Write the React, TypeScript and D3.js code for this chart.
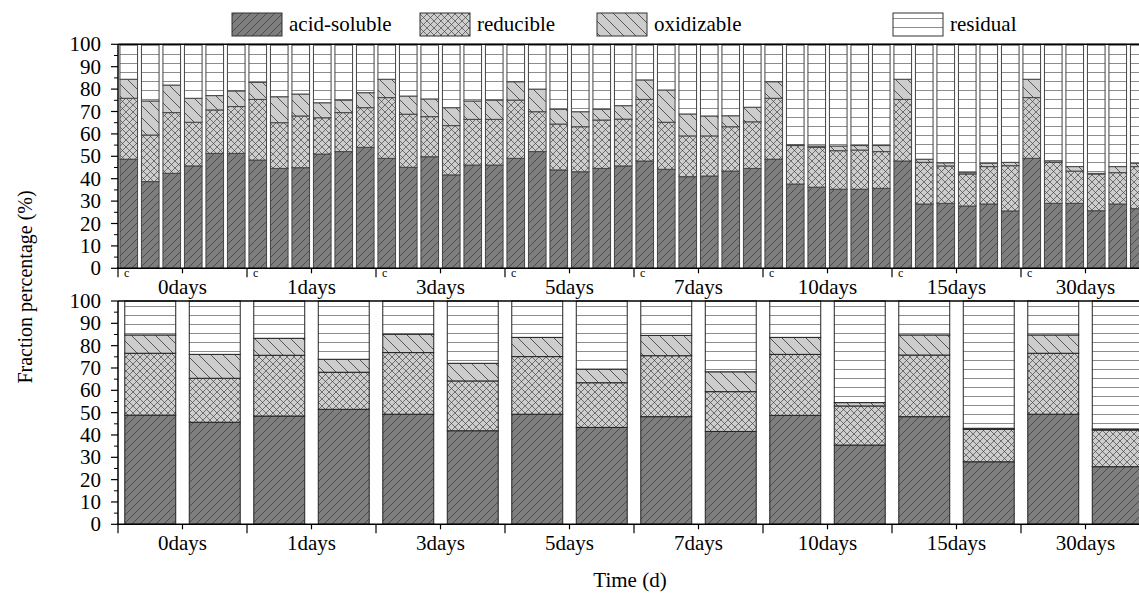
import React from 'react';
import * as d3 from 'd3';

const groups = ['0days', '1days', '3days', '5days', '7days', '10days', '15days', '30days'];
const fractionKeys = ['acid', 'reducible', 'oxidizable', 'residual'];
const fractionLabels = ['acid-soluble', 'reducible', 'oxidizable', 'residual'];

// Top panel: 6 bars per group (first bar of each group = control "c")
const topAcid = [
  48.7, 38.7, 42.4, 45.7, 51.3, 51.3,
  48.3, 44.6, 44.9, 51.0, 52.1, 54.0,
  49.1, 45.1, 49.8, 41.7, 46.1, 46.1,
  49.1, 52.1, 43.9, 43.1, 44.6, 45.7,
  47.9, 44.2, 40.9, 41.2, 43.4, 44.6,
  48.7, 37.6, 36.2, 35.3, 35.3, 35.7,
  47.9, 28.7, 29.0, 27.8, 28.7, 25.6,
  49.1, 29.0, 29.0, 25.7, 28.7, 26.6,
];
const topReducible = [
  27.2, 20.8, 27.1, 19.5, 19.4, 20.9,
  27.1, 20.4, 23.1, 16.2, 17.4, 17.7,
  27.1, 23.7, 17.9, 22.0, 20.4, 20.4,
  26.0, 17.8, 20.5, 20.1, 21.6, 20.9,
  27.5, 21.0, 18.2, 17.9, 19.8, 20.8,
  27.2, 17.2, 17.8, 17.2, 17.5, 16.4,
  27.5, 18.6, 16.7, 14.3, 16.7, 20.2,
  27.1, 18.3, 14.4, 16.4, 14.0, 18.8,
];
const topOxidizable = [
  8.5, 15.2, 12.3, 10.7, 6.4, 7.0,
  7.6, 11.6, 9.8, 6.7, 5.6, 6.7,
  8.2, 8.1, 7.9, 8.0, 8.2, 8.6,
  8.2, 10.1, 6.6, 6.7, 4.8, 6.0,
  8.7, 14.4, 9.8, 8.9, 4.9, 6.5,
  7.4, 0.3, 0.6, 2.1, 2.0, 2.7,
  9.0, 1.4, 1.4, 0.6, 1.5, 1.5,
  8.2, 0.7, 2.0, 0.3, 2.7, 1.5,
];
const topResidual = [
  15.6, 25.3, 18.2, 24.1, 22.9, 20.8,
  17.0, 23.4, 22.2, 26.1, 24.9, 21.6,
  15.6, 23.1, 24.4, 28.3, 25.3, 24.9,
  16.7, 20.0, 29.0, 30.1, 29.0, 27.4,
  15.9, 20.4, 31.1, 32.0, 31.9, 28.1,
  16.7, 44.9, 45.4, 45.4, 45.2, 45.2,
  15.6, 51.3, 52.9, 57.3, 53.1, 52.7,
  15.6, 52.0, 54.6, 57.6, 54.6, 53.1,
];

// Bottom panel: 2 bars per group (control, treatment)
const bottomAcid = [48.9, 45.7, 48.5, 51.5, 49.3, 41.9, 49.3, 43.4, 48.2, 41.6, 48.8, 35.5, 48.2, 28.0, 49.3, 25.8];
const bottomReducible = [27.7, 19.7, 27.2, 16.6, 27.6, 22.3, 25.8, 20.0, 27.3, 17.8, 27.3, 17.5, 27.6, 14.5, 27.3, 16.4];
const bottomOxidizable = [8.2, 10.7, 7.6, 5.8, 8.2, 7.9, 8.6, 6.1, 9.1, 8.9, 7.6, 1.5, 9.0, 0.5, 8.2, 0.5];
const bottomResidual = [15.2, 23.9, 16.7, 26.1, 14.9, 27.9, 16.3, 30.5, 15.4, 31.7, 16.3, 45.5, 15.2, 57.0, 15.2, 57.3];

const yTicks = [0, 10, 20, 30, 40, 50, 60, 70, 80, 90, 100];
const yMinor = [5, 15, 25, 35, 45, 55, 65, 75, 85, 95];

const W = 1139;
const H = 596;
const X0 = 118;
const X1 = 1150;
const FONT = 'Liberation Serif, Tinos, DejaVu Serif, serif';

type Row = { [k: string]: number };

function buildRows(a: number[], r: number[], o: number[], s: number[]): Row[] {
  return a.map((v, i) => ({ acid: v, reducible: r[i], oxidizable: o[i], residual: s[i] }));
}

const fills: { [k: string]: string } = {
  acid: 'url(#pAcid)',
  reducible: 'url(#pRed)',
  oxidizable: 'url(#pOx)',
  residual: 'url(#pRes)',
};

function Panel(props: {
  rows: Row[];
  yBottom: number;
  yTop: number;
  padding: number;
  labelY: number;
  showC: boolean;
  barStroke: string;
}) {
  const { rows, yBottom, yTop, padding, labelY, showC, barStroke } = props;
  const n = rows.length;
  const per = n / groups.length;
  const x = d3.scaleBand<number>().domain(d3.range(n)).range([X0, X1]).paddingInner(padding).paddingOuter(padding / 2);
  const gx = d3.scaleBand<string>().domain(groups).range([X0, X1]).padding(0);
  const y = d3.scaleLinear().domain([0, 100]).range([yBottom, yTop]);
  const stack = d3.stack<Row>().keys(fractionKeys);
  const series = stack(rows);

  return (
    <g>
      {series.map((s) => (
        <g key={s.key}>
          {s.map((d, i) => (
            <rect
              key={i}
              x={x(i)}
              y={y(d[1])}
              width={x.bandwidth()}
              height={Math.max(0, y(d[0]) - y(d[1]))}
              fill={fills[s.key]}
              stroke={barStroke}
              strokeWidth={1}
            />
          ))}
        </g>
      ))}
      {/* frame */}
      <line x1={X0} x2={W} y1={yTop} y2={yTop} stroke="#000" strokeWidth={1.5} />
      <line x1={X0} x2={X0} y1={yTop} y2={yBottom} stroke="#000" strokeWidth={1.5} />
      <line x1={X0 - 1} x2={W} y1={yBottom} y2={yBottom} stroke="#000" strokeWidth={1.5} />
      {/* y ticks */}
      {yTicks.map((t) => (
        <g key={t}>
          <line x1={X0 - 7} x2={X0} y1={y(t)} y2={y(t)} stroke="#000" strokeWidth={1.2} />
          <text x={101} y={y(t)} dy="0.34em" textAnchor="end" fontSize={21} fontFamily={FONT}>
            {t}
          </text>
        </g>
      ))}
      {yMinor.map((t) => (
        <line key={t} x1={X0 - 4} x2={X0} y1={y(t)} y2={y(t)} stroke="#000" strokeWidth={1} />
      ))}
      {/* x ticks and labels */}
      {groups.map((g) => {
        const gs = gx(g) as number;
        const mid = gs + gx.bandwidth() / 2;
        return (
          <g key={g}>
            <line x1={gs} x2={gs} y1={yBottom} y2={yBottom + 9} stroke="#000" strokeWidth={1.2} />
            <line x1={mid} x2={mid} y1={yBottom} y2={yBottom + 5} stroke="#000" strokeWidth={1.2} />
            <text x={mid} y={labelY} textAnchor="middle" fontSize={21} fontFamily={FONT}>
              {g}
            </text>
            {showC && (
              <text x={(x(groups.indexOf(g) * per) as number) + 4} y={yBottom + 9} fontSize={12} fontFamily={FONT}>
                c
              </text>
            )}
          </g>
        );
      })}
    </g>
  );
}

export default function App() {
  const topRows = buildRows(topAcid, topReducible, topOxidizable, topResidual);
  const bottomRows = buildRows(bottomAcid, bottomReducible, bottomOxidizable, bottomResidual);
  const legendX = [232, 420, 597, 893];

  return (
    <svg
      width={W}
      height={H}
      style={{ position: 'absolute', left: 0, top: 0, background: '#fff' }}
      xmlns="http://www.w3.org/2000/svg"
    >
      <defs>
        <pattern id="pAcid" patternUnits="userSpaceOnUse" width={8} height={8}>
          <rect width={8} height={8} fill="#7e7e7e" />
          <path d="M0,8 L8,0 M-2,2 L2,-2 M6,10 L10,6" stroke="#2a2a2a" strokeWidth={0.6} />
        </pattern>
        <pattern id="pRed" patternUnits="userSpaceOnUse" width={7} height={7}>
          <rect width={7} height={7} fill="#cdcdcd" />
          <path d="M0,7 L7,0 M-2,2 L2,-2 M5,9 L9,5 M0,0 L7,7 M-2,5 L2,9 M5,-2 L9,2" stroke="#3a3a3a" strokeWidth={0.65} />
        </pattern>
        <pattern id="pOx" patternUnits="userSpaceOnUse" width={12} height={12}>
          <rect width={12} height={12} fill="#cdcdcd" />
          <path d="M0,0 L12,12 M-2,10 L2,14 M10,-2 L14,2" stroke="#333" strokeWidth={0.8} />
        </pattern>
        <pattern id="pRes" patternUnits="userSpaceOnUse" width={10} height={9}>
          <rect width={10} height={9} fill="#fff" />
          <line x1={0} x2={10} y1={0.5} y2={0.5} stroke="#8c8c8c" strokeWidth={1} />
        </pattern>
      </defs>
      <rect width={W} height={H} fill="#fff" />

      {/* legend */}
      {fractionKeys.map((k, i) => (
        <g key={k}>
          <rect x={legendX[i]} y={13} width={50} height={23} fill={fills[k]} stroke="#333" strokeWidth={1} />
          <text x={legendX[i] + 57} y={31} fontSize={21} fontFamily={FONT}>
            {fractionLabels[i]}
          </text>
        </g>
      ))}

      <Panel rows={topRows} yBottom={268.3} yTop={44.3} padding={0.18} labelY={294} showC={true} barStroke="#444" />
      <Panel rows={bottomRows} yBottom={524.3} yTop={301} padding={0.21} labelY={550} showC={false} barStroke="#222" />

      <text
        transform="translate(32,287) rotate(-90)"
        textAnchor="middle"
        fontSize={20}
        fontFamily={FONT}
      >
        Fraction percentage (%)
      </text>
      <text x={630} y={587} textAnchor="middle" fontSize={21} fontFamily={FONT}>
        Time (d)
      </text>
    </svg>
  );
}
